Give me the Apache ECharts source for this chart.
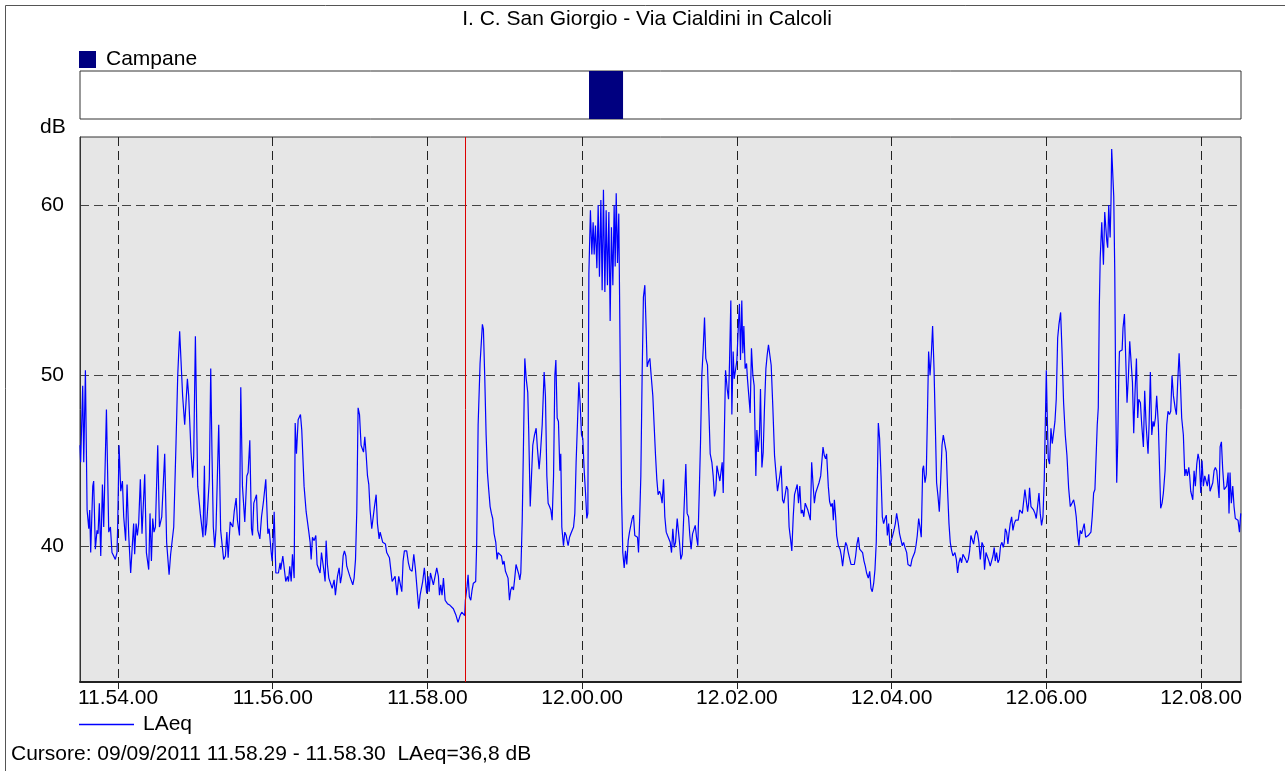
<!DOCTYPE html>
<html><head><meta charset="utf-8">
<script src="https://cdn.jsdelivr.net/npm/echarts@6/dist/echarts.min.js"></script>
<style>html,body{margin:0;padding:0;background:#fff}#c{width:1285px;height:771px}</style>
</head><body><div id="c"></div>
<script>
const chartTitle = 'I. C. San Giorgio - Via Cialdini in Calcoli';
const cursorText = 'Cursore: 09/09/2011 11.58.29 - 11.58.30  LAeq=36,8 dB';
const yUnit = 'dB';
const baseSecondOfDay = 11 * 3600 + 54 * 60; // 11.54.00
const xMin = -29.5, xMax = 871;              // seconds from 11.54.00
const xTickSeconds = [0, 120, 240, 360, 480, 600, 720, 840];
const yMin = 32, yMax = 64;
const yTicks = [40, 50, 60];
const campane = [[365.3, 391.7]];            // Campane interval (s)
const cursorSecond = 269.5;

// LAeq [seconds from 11.54.00, dB]
const seg1 = [[-29.5,45.9],[-29,44.9],[-27.4,49.4],[-26.6,44.9],[-25.3,50.3],[-24.8,50.2],[-24.0,42.1],[-22.7,41.0],[-22.0,42.1],[-21.2,39.6],[-19.6,43.5],[-18.9,43.8],[-17.6,39.8],[-16.3,40.9],[-15.5,40.7],[-14.5,42.5],[-13.4,39.4],[-12.1,43.6],[-11.1,41.1],[-9.0,48.0],[-7.2,40.8],[-5.9,41.1],[-4.7,39.6],[-3.4,39.5],[-2.1,39.2],[-0.8,39.6],[-0.3,41.1],[0.8,45.9],[2.1,43.2],[3.4,43.8],[4.4,41.7],[5.9,40.3],[7.0,43.6],[8.3,40.6],[9.8,38.4],[10.9,39.8],[12.1,41.3],[12.9,39.5],[14.0,41.3],[15.0,40.6],[16.0,41.3],[17.3,43.9],[18.6,40.7],[20.7,44.2],[22.0,39.6],[22.7,39.6],[23.8,38.6],[24.8,41.9],[25.9,39.1],[26.9,41.6],[27.9,40.8],[29.0,41.1],[30.8,45.9],[32.1,41.1],[33.1,41.0],[33.9,41.7],[36.2,45.4],[37.7,40.2],[39.6,38.3],[40.8,39.5],[41.9,39.5],[43.2,41.1],[45.0,46.1],[46.3,50.0],[47.8,52.6],[48.9,52.6],[50.1,48.8],[51.7,47.1],[53.8,49.8],[54.8,48.8],[56.6,45.5],[57.9,44.0],[58.7,45.3],[60.0,52.3],[61.8,43.5],[63.8,41.9],[65.1,41.9],[65.9,40.5],[67.0,44.7],[67.7,40.6],[68.8,41.3],[69.8,41.2],[70.8,43.9],[71.9,50.4],[72.9,45.3],[73.9,41.1],[75.0,39.9],[76.0,41.0],[77.0,41.1],[78.1,47.1],[79.6,40.9],[80.7,40.9],[81.9,39.2]];
const seg2 = [[83.3,39.4],[84.4,40.8],[85.4,39.3],[87.0,41.4],[89.0,41.1],[90.1,42.0],[91.6,42.8],[92.6,41.5],[94.2,40.6],[95.2,49.3],[96.5,43.5],[98.3,41.4],[99.9,44.1],[100.9,44.3],[102.2,46.2],[103.5,41.0],[104.3,40.6],[105.3,42.5],[106.3,42.5],[107.4,43.0],[108.4,40.9],[110.0,40.4],[111.3,41.7],[112.8,42.6],[114.6,43.9],[116.2,40.7],[117.2,41.0],[118.0,40.9],[118.7,39.7],[119.5,39.1],[120.3,40.2],[121.1,42.0],[122.4,38.4],[124.4,38.4],[125.7,39.0],[126.2,38.6],[127.8,39.4],[128.8,39.5],[130.1,37.9],[131.4,38.2],[132.2,37.9],[133.2,38.8],[134.3,37.9],[135.3,39.5],[136.6,38.1],[137.4,47.2],[138.4,45.4],[139.7,47.4],[141.5,47.7],[142.5,46.8],[144.3,43.5],[145.9,42.0],[146.9,41.9],[148.0,40.8],[149.0,40.2],[149.8,39.2],[150.8,40.5],[152.1,40.3],[153.4,40.6],[154.4,38.9],[155.7,38.8],[156.7,38.4],[157.8,39.6],[158.8,39.6],[159.9,38.4],[160.6,37.9],[161.4,40.3],[162.4,38.9],[163.5,38.1],[165.0,38.2],[166.1,37.5],[167.6,38.0],[168.6,37.1],[170.2,38.2],[171.5,38.7],[172.5,37.8],[173.6,38.3],[174.6,39.4],[175.6,39.7],[176.7,39.4],[177.4,38.8],[178.7,38.7],[179.8,38.2],[181.0,38.1],[182.1,37.7],[183.1,38.1],[184.2,39.2],[185.2,42.1],[186.2,48.1],[187.3,47.7],[188.5,45.9],[189.6,46.0],[190.4,45.5],[191.4,46.4],[192.4,45.4],[193.5,44.1],[194.5,43.6],[195.5,42.1]];
const seg3 = [[196.8,41.0],[197.6,40.9],[198.9,42.3],[200.2,43.0],[201.2,41.3],[202.5,40.4],[203.3,40.8],[204.3,40.7],[205.3,40.2],[206.4,40.2],[207.4,40.1],[208.4,39.6],[209.5,39.5],[210.5,39.3],[211.5,39.4],[212.6,37.9],[213.9,38.0],[214.9,38.2],[215.7,38.1],[216.4,37.1],[217.7,38.2],[218.8,38.1],[220.1,37.3],[221.1,39.1],[222.1,39.7],[223.9,39.7],[225.2,39.0],[226.5,38.6],[228.1,38.5],[229.4,39.5],[230.7,38.6],[232.0,37.4],[233.2,36.3],[234.3,37.1],[235.3,37.0],[236.3,37.9],[237.6,38.7],[238.4,38.8],[239.4,37.2],[240.5,38.2],[241.3,37.3],[242.3,38.4],[243.3,38.4],[244.6,37.7],[245.9,37.6],[247.2,38.7],[248.5,38.2],[249.3,37.1],[250.3,37.7],[251.3,37.1],[252.4,38.1],[253.7,36.8],[255.5,36.6],[257.5,36.5],[258.8,36.4],[260.1,36.3],[261.2,36.4],[262.2,35.9],[263.7,35.5],[265.3,35.9],[266.6,36.1],[267.9,36.0],[268.9,35.9],[269.4,36.8],[270.7,37.6],[271.5,38.3],[272.5,37.0],[273.6,36.8],[274.6,37.4],[275.6,37.8],[277.4,37.9],[278.2,40.2],[279.3,47.1],[280.8,50.7],[282.6,53.0],[283.4,52.7],[284.4,50.0],[285.5,46.5],[286.5,44.3],[287.5,43.3],[288.6,42.3],[289.6,41.9],[290.6,41.6],[291.7,40.7],[293.0,40.2],[294.0,39.2],[294.8,39.6],[296.3,39.5],[297.4,39.4],[298.4,38.9],[299.4,39.1],[300.5,38.5],[301.5,38.4],[302.5,38.1],[303.6,36.8],[304.6,37.4],[305.6,37.6],[306.7,37.4],[307.7,38.1],[308.7,38.9]];
const seg4 = [[309.8,38.8],[310.9,38.3],[311.6,38.0],[312.4,38.4],[313.5,41.5],[314.5,46.1],[315.5,51.0],[316.6,49.8],[317.8,49.0],[318.6,46.5],[319.7,42.3],[320.7,44.1],[321.7,45.9],[323.0,46.5],[324.3,46.9],[325.3,45.7],[326.6,44.5],[327.7,45.5],[329.0,47.1],[330.5,50.2],[331.5,48.8],[332.6,44.1],[333.6,42.5],[334.7,42.3],[335.7,42.1],[336.7,41.5],[337.8,44.1],[338.8,50.0],[339.6,50.9],[340.6,47.5],[341.6,47.3],[342.7,44.4],[343.4,45.4],[344.2,41.1],[345.5,40.0],[346.5,40.8],[347.6,40.6],[349.1,40.0],[350.2,40.5],[351.2,40.7],[352.2,40.8],[353.3,41.1],[354.3,41.9],[355.3,44.9],[356.4,47.3],[357.4,49.6],[358.4,48.4],[359.5,46.5],[360.5,46.3],[361.5,44.5],[362.6,43.1],[363.6,41.6],[364.4,41.9],[365.2,56.0],[366.4,59.7],[367.5,57.1],[368.5,59.0],[369.3,57.1],[370.3,58.8],[371.4,56.3],[372.4,60.0],[373.4,55.8],[374.5,60.3],[375.5,55.0],[376.5,60.9],[377.6,54.9],[378.6,59.7],[379.6,55.3],[380.7,59.6],[381.7,53.2],[382.7,58.7],[383.8,55.3],[384.8,60.0],[385.6,56.4],[386.4,60.7],[387.4,56.6],[388.4,59.5],[389.5,50.8],[390.5,43.1],[391.5,39.6],[392.6,38.7],[393.6,39.7],[394.6,38.9],[395.7,40.3],[396.7,40.8],[397.7,40.9],[398.8,41.6],[399.8,41.8],[400.8,40.6],[401.9,40.7],[402.9,40.5],[403.7,39.6],[404.4,41.1],[405.5,44.1],[406.5,50.0],[407.5,54.6],[408.6,55.3],[409.6,52.8],[410.4,50.5],[411.4,50.8],[412.5,51.0],[413.5,50.0],[414.8,48.8],[415.8,47.1],[416.9,45.3],[417.9,43.9],[418.9,43.0],[420.0,43.2],[421.0,43.0],[422.0,42.5]];
const seg5 = [[423.1,43.9],[424.1,41.7],[425.2,40.8],[426.2,40.6],[427.2,40.6],[428.3,40.2],[429.3,39.6],[430.3,41.0],[431.4,39.9],[432.4,40.2],[433.7,41.6],[434.5,41.7],[435.5,40.2],[436.5,39.2],[437.6,39.5],[438.6,41.4],[439.4,41.4],[440.4,44.8],[441.4,41.9],[442.5,41.7],[443.5,40.6],[444.5,39.8],[445.6,40.7],[446.6,40.8],[447.7,41.2],[448.7,40.5],[449.7,40.0],[450.8,43.1],[451.8,46.1],[452.8,50.0],[453.9,51.6],[454.9,53.4],[455.9,51.0],[457.2,50.6],[458.2,48.1],[459.3,45.4],[460.6,44.9],[461.6,44.1],[462.6,42.9],[463.7,43.3],[464.5,44.7],[465.7,44.8],[466.8,43.8],[467.8,43.9],[468.6,44.9],[469.4,43.1],[470.4,47.1],[471.2,50.3],[472.5,49.2],[473.5,48.6],[474.3,50.8],[475.3,54.4],[476.1,47.7],[477.1,51.4],[477.9,49.8],[478.9,50.3],[480.0,50.9],[481.3,53.2],[482.0,54.2],[482.8,50.9],[483.8,54.4],[484.6,51.3],[485.4,52.9],[486.4,50.4],[487.5,50.7],[488.2,49.8],[489.5,49.7],[490.3,47.8],[491.3,51.6],[492.4,50.0],[493.4,49.4],[494.7,44.1],[495.5,46.8],[496.5,45.5],[497.5,46.5],[498.3,49.2],[499.4,44.6],[500.4,45.5],[501.4,48.1],[502.5,50.4],[503.5,51.2],[504.5,51.8],[505.6,51.9],[506.6,50.6],[507.9,48.1],[509.2,45.3],[510.5,44.1],[511.5,43.2],[512.3,43.3],[513.3,44.1],[514.3,44.7],[515.4,42.7],[516.4,42.5],[517.4,42.6],[518.5,43.5],[519.5,43.3],[520.5,41.1],[521.6,40.4],[522.6,39.7],[523.7,41.7],[524.7,43.0],[525.7,43.0],[526.8,43.6],[527.8,42.5],[528.8,43.5],[529.9,41.9],[530.9,42.1],[531.9,41.7],[533.0,42.5],[534.0,42.6],[535.0,42.1]];
const seg6 = [[536.2,42.1],[537.0,41.5],[538.0,44.9],[539.0,43.7],[540.1,42.5],[541.1,43.1],[542.6,43.1],[543.7,43.7],[545.0,44.1],[545.7,44.1],[546.8,45.8],[547.8,45.3],[548.8,45.1],[549.6,45.4],[550.9,43.5],[551.9,42.6],[553.0,42.3],[554.0,42.5],[554.8,41.5],[555.6,42.7],[556.6,41.7],[557.4,40.6],[558.7,40.0],[560.0,39.8],[561.0,39.4],[562.0,38.8],[563.3,39.7],[564.4,40.2],[565.4,40.0],[566.4,39.6],[567.5,39.6],[568.5,38.9],[570.0,38.8],[571.1,38.9],[572.1,39.4],[573.1,40.1],[574.2,40.5],[575.2,39.8],[576.2,39.9],[577.5,39.6],[578.6,39.1],[579.6,38.8],[580.6,38.4],[581.9,38.1],[583.0,38.5],[584.0,37.5],[585.0,37.3],[586.1,37.8],[587.1,38.6],[588.1,40.2],[588.9,43.7],[589.7,47.2],[590.7,46.3],[591.8,44.1],[592.8,41.7],[593.8,41.3],[594.9,41.6],[595.9,41.8],[596.7,40.6],[597.7,41.3],[598.7,40.0],[599.8,40.0],[600.8,40.6],[601.8,40.9],[602.9,41.3],[603.9,41.9],[605.2,41.3],[606.2,40.7],[607.3,40.6],[608.3,40.0],[609.3,40.2],[610.4,39.9],[611.7,39.6],[612.7,38.9],[613.7,39.0],[614.8,38.8],[615.8,39.2],[616.8,39.4],[617.9,39.6],[618.9,40.0],[619.9,40.6],[621.0,41.6],[622.0,41.1],[623.0,40.5],[624.1,44.5],[624.8,44.7],[625.9,43.7],[626.9,44.2],[627.9,48.1],[628.7,51.4],[629.8,50.0],[630.8,51.2],[631.8,52.9],[632.9,50.4],[633.9,47.1],[634.9,43.7],[636.0,42.9],[637.0,42.0],[638.0,43.7],[639.1,45.9],[640.1,46.5],[641.4,46.6],[642.4,45.5],[643.5,43.1],[644.5,41.3],[645.5,40.2],[646.6,39.7],[647.6,39.4],[648.6,39.5]];
const seg7 = [[649.1,39.6],[650.2,39.2],[651.2,38.4],[652.2,39.0],[653.3,39.3],[654.3,39.0],[655.3,39.5],[656.4,39.6],[657.4,39.2],[658.4,39.0],[659.5,39.2],[660.5,39.7],[661.5,40.6],[662.6,40.6],[663.6,40.1],[664.6,40.6],[665.7,40.9],[666.7,40.7],[667.7,40.2],[668.8,39.2],[670.1,40.2],[671.1,40.0],[672.1,38.6],[673.2,39.6],[674.5,39.6],[675.5,39.1],[676.5,38.8],[677.6,38.9],[678.6,39.4],[679.6,39.9],[680.4,39.1],[681.4,39.6],[682.5,39.0],[683.5,39.2],[684.5,40.0],[685.6,40.2],[686.6,39.9],[687.4,40.2],[688.2,41.0],[689.2,40.8],[690.2,40.1],[691.0,40.7],[692.0,41.3],[693.1,41.7],[694.1,40.9],[695.1,41.3],[696.2,41.5],[697.2,41.6],[698.2,41.5],[699.3,42.1],[700.3,42.0],[701.4,41.9],[702.4,42.0],[703.4,43.3],[704.5,43.3],[705.5,42.0],[706.3,42.5],[707.0,43.4],[708.1,42.3],[709.1,42.3],[710.1,42.1],[711.2,41.9],[712.2,41.6],[713.2,42.3],[714.3,43.1],[715.3,41.9],[716.3,41.2],[717.4,41.7],[718.4,43.9],[719.2,47.1],[720.0,50.3],[720.7,47.7],[721.5,45.1],[722.5,44.8],[723.6,46.9],[724.6,46.0],[725.7,46.1],[726.7,47.3],[727.7,48.6],[728.8,52.2],[729.8,53.0],[731.1,53.7],[732.1,51.6],[733.4,48.4],[734.7,46.5],[736.0,45.3],[737.3,43.4],[738.6,42.3],[739.9,42.5],[741.2,42.7],[742.2,42.3],[743.2,41.7],[744.3,40.6],[745.3,40.0],[746.3,40.9],[747.4,40.7],[748.4,41.0],[749.4,41.3],[750.5,40.5],[751.5,40.6],[752.5,40.6],[753.6,40.7],[754.6,40.8],[755.6,41.7],[756.7,43.1],[757.7,43.3],[758.7,43.3],[759.5,47.1],[760.3,48.1],[761.1,54.0],[761.8,56.9]];
const seg8 = [[763.0,59.0],[764.3,56.5],[765.3,59.6],[766.9,57.9],[767.6,57.5],[768.4,60.0],[769.5,58.1],[770.2,60.3],[770.7,63.3],[771.5,63.2],[772.3,60.5],[773.1,56.0],[773.8,49.0],[774.6,43.7],[775.4,46.1],[776.2,50.0],[776.7,51.4],[777.7,51.5],[778.8,51.5],[779.5,52.8],[780.6,53.6],[781.6,51.0],[782.6,48.4],[783.7,50.0],[784.7,52.0],[785.7,52.1],[786.8,49.6],[787.8,46.6],[788.8,49.0],[789.9,51.0],[790.9,47.5],[791.7,48.6],[793.0,48.4],[794.0,47.1],[795.3,45.8],[796.3,49.1],[797.4,47.1],[798.9,45.4],[799.7,47.1],[800.7,50.2],[801.8,46.5],[802.8,47.3],[803.6,47.0],[804.6,47.5],[805.6,48.8],[806.9,47.1],[807.7,44.9],[808.7,42.2],[809.8,42.5],[810.8,43.1],[812.1,44.4],[813.4,47.1],[814.4,47.9],[815.5,47.7],[816.5,47.9],[817.5,50.0],[818.6,48.8],[819.9,48.1],[820.9,47.7],[821.9,49.6],[823.0,51.3],[824.0,49.6],[825.0,47.5],[826.3,46.5],[827.4,44.1],[828.4,44.5],[829.4,44.1],[830.5,44.6],[831.2,44.1],[832.0,43.2],[832.8,43.2],[833.6,42.7],[834.6,44.4],[835.6,43.5],[836.7,44.8],[837.7,45.4],[838.7,45.0],[839.8,43.1],[840.8,45.0],[841.8,43.5],[842.9,44.1],[843.9,44.2],[844.9,43.5],[846.0,44.2],[847.0,43.2],[848.0,43.3],[849.1,43.7],[850.1,44.4],[851.1,44.6],[852.2,44.4],[853.2,44.4],[854.0,42.8],[854.8,45.8],[855.8,46.1],[856.8,44.5],[857.9,43.3],[858.9,43.2],[859.9,43.5],[861.0,44.3],[861.7,41.9],[862.5,44.3],[863.5,42.5],[864.6,43.5],[865.6,42.3],[866.6,41.6],[867.7,41.7],[868.7,41.5],[869.8,40.8],[870.8,41.9],[871.0,41.9]];
const laeq = [].concat(seg1, seg2, seg3, seg4, seg5, seg6, seg7, seg8);

const FONT = '"Liberation Sans", Arial, sans-serif';
function fmtTime(s) {
  const tot = Math.round(baseSecondOfDay + s);
  const h = Math.floor(tot / 3600), m = Math.floor((tot % 3600) / 60), sec = tot % 60;
  return h + '.' + String(m).padStart(2, '0') + '.' + String(sec).padStart(2, '0');
}
const gridL = 80, gridW = 1161;
const dash = [9, 5];

const chart = echarts.init(document.getElementById('c'), null, {renderer: 'canvas'});
chart.setOption({
  animation: false,
  backgroundColor: '#ffffff',
  textStyle: {fontFamily: FONT},
  graphic: [
    {type: 'rect', shape: {x: 5.5, y: 5.5, width: 1400, height: 900}, style: {fill: 'none', stroke: '#555', lineWidth: 1}, silent: true},
    {type: 'text', x: 647, y: 19, style: {text: chartTitle, font: '21px ' + FONT, fill: '#000', align: 'center', verticalAlign: 'middle'}},
    {type: 'text', x: 40, y: 127, style: {text: yUnit, font: '21px ' + FONT, fill: '#000', align: 'left', verticalAlign: 'middle'}},
    {type: 'text', x: 11, y: 754, style: {text: cursorText, font: '21px ' + FONT, fill: '#000', align: 'left', verticalAlign: 'middle'}}
  ],
  legend: [
    {data: ['Campane'], left: 79, top: 49, padding: 0, icon: 'rect', itemWidth: 17, itemHeight: 17,
     textStyle: {fontSize: 21, color: '#000', fontFamily: FONT, padding: [0, 0, 0, 5]}, selectedMode: false},
    {data: ['LAeq'], left: 79, top: 714, padding: 0, icon: 'rect', itemWidth: 55, itemHeight: 1.5,
     textStyle: {fontSize: 21, color: '#000', fontFamily: FONT, padding: [0, 0, 0, 4]}, selectedMode: false}
  ],
  grid: [
    {left: gridL, top: 71, width: gridW, height: 48, show: true, backgroundColor: '#fff', borderColor: '#333', borderWidth: 1},
    {left: gridL, top: 137, width: gridW, height: 545, show: true, backgroundColor: '#e6e6e6', borderColor: '#333', borderWidth: 1}
  ],
  xAxis: [
    {gridIndex: 0, type: 'value', min: xMin, max: xMax, show: false},
    {gridIndex: 1, type: 'value', min: xMin, max: xMax,
     axisLine: {show: true, onZero: false, lineStyle: {color: '#222', width: 2}},
     axisTick: {show: true, length: 7, customValues: xTickSeconds, lineStyle: {color: '#222', width: 1}},
     axisLabel: {customValues: xTickSeconds, formatter: v => fmtTime(v), fontSize: 21, color: '#000', fontFamily: FONT, margin: 6},
     splitLine: {show: true, lineStyle: {color: '#222', width: 1, type: dash}}}
  ],
  yAxis: [
    {gridIndex: 0, type: 'value', min: 0, max: 1, show: false},
    {gridIndex: 1, type: 'value', min: yMin, max: yMax,
     axisLine: {show: true, onZero: false, lineStyle: {color: '#333', width: 1}},
     axisTick: {show: false, customValues: yTicks},
     axisLabel: {customValues: yTicks, fontSize: 21, color: '#000', fontFamily: FONT, margin: 16},
     splitLine: {show: true, lineStyle: {color: '#444', width: 1, type: dash}}}
  ],
  series: [
    {name: 'Campane', type: 'custom', xAxisIndex: 0, yAxisIndex: 0, data: campane,
     itemStyle: {color: '#000080'},
     renderItem: function (params, api) {
       const p0 = api.coord([api.value(0), 1]);
       const p1 = api.coord([api.value(1), 0]);
       return {type: 'rect', shape: {x: p0[0], y: p0[1], width: p1[0] - p0[0], height: p1[1] - p0[1]}, style: {fill: '#000080'}};
     }},
    {name: 'LAeq', type: 'line', xAxisIndex: 1, yAxisIndex: 1, data: laeq, showSymbol: false, symbol: 'none',
     color: '#0000ff', lineStyle: {color: '#0000ff', width: 1.2}, silent: true,
     markLine: {silent: true, symbol: 'none', label: {show: false}, lineStyle: {color: '#dd0000', width: 1, type: 'solid'},
                data: [{xAxis: cursorSecond}]}}
  ]
});
</script></body></html>
